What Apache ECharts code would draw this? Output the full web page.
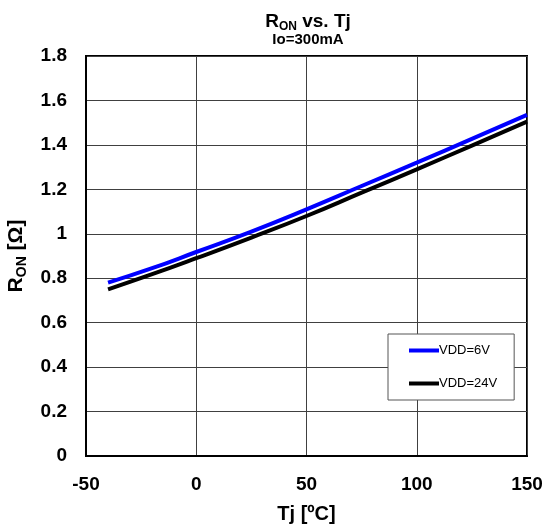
<!DOCTYPE html>
<html>
<head>
<meta charset="utf-8">
<script src="https://cdn.jsdelivr.net/npm/echarts@6/dist/echarts.min.js"></script>
<style>
  html, body { margin: 0; padding: 0; background: #fff; }
  #chart { width: 546px; height: 528px; }
</style>
</head>
<body>
<div id="chart"></div>
<script>
// junction temperature (ºC)
const tj = [-40, -20, 0, 25, 50, 75, 100, 125, 150]
// on resistance (Ω)
const ronVdd6 = [0.78, 0.845, 0.918, 1.01, 1.11, 1.215, 1.32, 1.427, 1.535]
const ronVdd24 = [0.75, 0.818, 0.89, 0.983, 1.08, 1.185, 1.29, 1.397, 1.505]
const seriesNames = ['VDD=6V', 'VDD=24V']
const seriesColors = ['#0000ff', '#000000']

const font = 'Liberation Sans, Arial, sans-serif'
const chart = echarts.init(document.getElementById('chart'))

const pairs = (ys) => tj.map((x, i) => [x, ys[i]])

// bold text with a subscript part, used by the title and the y axis name
const subRich = (size, subSize) => ({
  a: { fontFamily: font, fontWeight: 'bold', fontSize: size, color: '#000' },
  s: { fontFamily: font, fontWeight: 'bold', fontSize: subSize, color: '#000', padding: [Math.round(size * 0.5), 0, 0, 0] }
})

chart.setOption({
  animation: false,
  title: {
    text: '{a|R}{s|ON}{a| vs. Tj}',
    subtext: 'Io=300mA',
    left: 303,
    textAlign: 'center',
    top: 6,
    itemGap: 1,
    textStyle: { rich: subRich(19, 12) },
    subtextStyle: { fontFamily: font, fontWeight: 'bold', fontSize: 15, color: '#000' }
  },
  grid: {
    left: 86, right: 19, top: 56, bottom: 72,
    outerBoundsMode: 'none',
    show: true, borderColor: '#000', borderWidth: 2, backgroundColor: '#fff'
  },
  legend: {
    orient: 'vertical',
    left: 388, top: 334,
    padding: [10, 17, 10, 21],
    itemGap: 20,
    itemWidth: 30, itemHeight: 4,
    icon: 'rect',
    backgroundColor: '#fff',
    borderColor: '#555', borderWidth: 1,
    textStyle: { fontFamily: font, fontSize: 13, color: '#000', padding: [0, 0, 0, -5] },
    data: seriesNames
  },
  xAxis: {
    type: 'value', min: -50, max: 150, interval: 50,
    name: 'Tj [ºC]', nameLocation: 'middle', nameGap: 48,
    nameTextStyle: { fontFamily: font, fontWeight: 'bold', fontSize: 20, color: '#000' },
    axisLine: { show: true, onZero: false, lineStyle: { color: '#000', width: 2 } },
    axisTick: { show: false },
    axisLabel: { fontFamily: font, fontWeight: 'bold', fontSize: 19, color: '#000', margin: 19 },
    splitLine: { show: true, lineStyle: { color: '#404040', width: 1 } }
  },
  yAxis: {
    type: 'value', min: 0, max: 1.8, interval: 0.2,
    name: '{a|R}{s|ON}{a| [Ω]}', nameLocation: 'middle', nameGap: 57,
    nameTextStyle: { rich: subRich(21, 14) },
    axisLine: { show: true, onZero: false, lineStyle: { color: '#000', width: 2 } },
    axisTick: { show: false },
    axisLabel: { fontFamily: font, fontWeight: 'bold', fontSize: 19, color: '#000', margin: 19 },
    splitLine: { show: true, lineStyle: { color: '#404040', width: 1 } }
  },
  series: [
    {
      name: seriesNames[0], type: 'line', symbol: 'none', smooth: true, z: 3,
      color: seriesColors[0], lineStyle: { width: 4, color: seriesColors[0] },
      data: pairs(ronVdd6)
    },
    {
      name: seriesNames[1], type: 'line', symbol: 'none', smooth: true, z: 2,
      color: seriesColors[1], lineStyle: { width: 4, color: seriesColors[1] },
      data: pairs(ronVdd24)
    }
  ]
})
</script>
</body>
</html>
